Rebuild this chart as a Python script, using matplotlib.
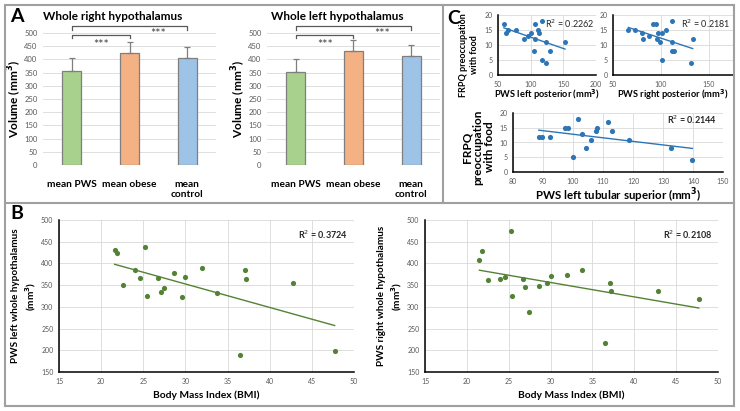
import numpy as np
import matplotlib
matplotlib.use("Agg")
import matplotlib.pyplot as plt
from matplotlib.patches import Rectangle
from matplotlib.lines import Line2D

plt.rcParams["font.family"] = ["Lato", "DejaVu Sans"]

W, H = 740, 411

# ── Data ──────────────────────────────────────────────────────────────────────
groups = ["mean PWS", "mean obese", "mean\ncontrol"]
right_means = [356, 423, 407]
right_err = [51, 44, 40]
left_means = [352, 430, 413]
left_err = [51, 45, 40]

# C: FRPQ preoccupation with food vs. regional volumes
lpost_x = [59, 62, 65, 78, 90, 95.5, 101, 107, 106, 104.5, 111, 113, 118, 118, 123, 123, 129, 152.5]
lpost_y = [17, 14, 15, 15, 12, 13, 14, 17, 12, 8, 15, 14, 18, 5, 4, 11, 8, 11]
rpost_x = [66, 73, 80, 81, 87, 92, 95, 96, 97, 99, 101, 101, 105, 111, 111, 111, 113.5, 131, 133]
rpost_y = [15, 15, 14, 12, 13, 17, 17, 12, 14, 11, 14, 5, 15, 18, 11, 8, 8, 4, 12]
tub_x = [88.6, 89.5, 92.3, 97.3, 98.4, 101.7, 103, 100, 104.4, 106, 107.7, 108, 111.5, 113, 118.5, 132.5, 139.8]
tub_y = [12, 12, 12, 15, 15, 18, 13, 5, 8, 11, 14, 15, 17, 14, 11, 8, 4]

# B: whole hypothalamus volume vs. BMI
bmi_left = [21.6, 21.9, 22.6, 24.0, 24.6, 25.2, 25.4, 26.7, 27.1, 27.4, 28.6, 29.6, 30.0, 32.0, 33.7, 36.5, 37.1, 37.2, 42.8, 47.7]
vol_left = [431, 423, 351, 385, 367, 437, 325, 367, 335, 344, 377, 323, 368, 389, 331, 190, 384, 364, 355, 198]
bmi_right = [21.5, 21.8, 22.5, 23.9, 24.5, 25.3, 25.4, 26.7, 27.0, 27.4, 28.6, 29.6, 30.0, 32.0, 33.7, 36.5, 37.1, 37.2, 42.8, 47.7]
vol_right = [408, 428, 361, 365, 368, 475, 325, 363, 345, 288, 347, 354, 371, 373, 385, 216, 355, 337, 337, 318]

BAR_COLORS = ["#A9D18E", "#F4B183", "#9DC3E6"]
GREEN = "#548235"
BLUE = "#2E75B6"
GRID = "#D9D9D9"
TICK = "#595959"
BORDER = "#A0A0A0"


def fx(x):
    return x / W


def fy(y):
    return 1 - y / H


def px_axes(fig, left, top, right, bottom):
    return fig.add_axes([fx(left), fy(bottom), (right - left) / W, (bottom - top) / H])


def ftext(fig, x, y, s, **kw):
    kw.setdefault("ha", "center")
    kw.setdefault("va", "center")
    fig.text(fx(x), fy(y), s, **kw)


# ── Panel A: bar charts ───────────────────────────────────────────────────────
def bar_panel(ax, means, err):
    xs = np.arange(len(means))
    ax.bar(xs, means, width=0.33, color=BAR_COLORS, edgecolor="#7F7F7F", linewidth=0.9, zorder=3)
    ax.errorbar(xs, means, yerr=[[0] * len(err), err], fmt="none", ecolor="#7F7F7F",
                elinewidth=0.9, capsize=2.5, capthick=0.9, zorder=4)
    ax.set_xlim(-0.5, 2.5)
    ax.set_ylim(0, 500)
    ax.set_yticks(range(0, 501, 50))
    ax.yaxis.grid(True, color=GRID, linewidth=0.6, zorder=0)
    for s in ax.spines.values():
        s.set_visible(False)
    ax.tick_params(length=0)
    ax.tick_params(axis="y", labelsize=5.5, labelcolor=TICK, pad=4)
    ax.set_xticks(xs)
    ax.set_xticklabels(groups, fontsize=7.3, fontweight="bold", linespacing=1.15)
    ax.tick_params(axis="x", pad=11)
    ax.set_ylabel("Volume (mm$^\\mathbf{3}$)", fontsize=8.6, fontweight="bold", labelpad=0)

    # significance brackets
    br = dict(color="#595959", linewidth=0.9, clip_on=False)
    ax.plot([0, 0, 2, 2], [510, 525, 525, 510], **br)
    ax.plot([0, 0, 1, 1], [480, 492, 492, 480], **br)
    ax.text(0.5, 455, "***", ha="center", va="center", fontsize=9, color="#404040")
    ax.text(1.5, 495, "***", ha="center", va="center", fontsize=9, color="#404040")


# ── Scatter helper ────────────────────────────────────────────────────────────
def scatter_panel(ax, x, y, color, size, xlim, ylim, xticks, yticks, r2, r2_pos, r2_bold, tick_fs):
    ax.scatter(x, y, s=size, color=color, zorder=3, linewidths=0)
    slope, icpt = np.polyfit(x, y, 1)
    xl = np.array([min(x), max(x)])
    ax.plot(xl, slope * xl + icpt, color=color, linewidth=1.0, zorder=2)
    ax.set_xlim(*xlim)
    ax.set_ylim(*ylim)
    ax.set_xticks(xticks)
    ax.set_yticks(yticks)
    ax.grid(True, color=GRID, linewidth=0.6, zorder=0)
    for side in ("top", "right"):
        ax.spines[side].set_visible(False)
    for side in ("left", "bottom"):
        ax.spines[side].set_color("black")
        ax.spines[side].set_linewidth(1.1)
    ax.tick_params(length=0, labelsize=tick_fs, labelcolor=TICK, pad=4)
    ax.text(r2_pos[0], r2_pos[1], r2, transform=ax.transAxes, ha="right", va="center",
            fontsize=6.5, fontweight="bold" if r2_bold else "normal", color="#262626")


fig = plt.figure(figsize=(W / 100, H / 100), dpi=100)

ax_ar = px_axes(fig, 43, 33, 216, 165)
bar_panel(ax_ar, right_means, right_err)
ax_al = px_axes(fig, 267, 33, 440, 165)
bar_panel(ax_al, left_means, left_err)

ftext(fig, 17, 17, "A", fontsize=14, fontweight="bold")
ftext(fig, 113, 16, "Whole right hypothalamus", fontsize=8.5, fontweight="bold")
ftext(fig, 337, 16, "Whole left hypothalamus", fontsize=8.5, fontweight="bold")

# ── Panel C ───────────────────────────────────────────────────────────────────
ax_c1 = px_axes(fig, 498, 15, 596, 75)
scatter_panel(ax_c1, lpost_x, lpost_y, BLUE, 13, (50, 200), (0, 20), [50, 100, 150, 200], [0, 5, 10, 15, 20],
              "R$^2$ = 0.2262", (0.98, 0.86), False, 5)
ax_c1.set_xlabel("PWS left posterior (mm$^\\mathbf{3}$)", fontsize=6.7, fontweight="bold", labelpad=0)

ax_c2 = px_axes(fig, 613, 15, 733, 75)
scatter_panel(ax_c2, rpost_x, rpost_y, BLUE, 13, (50, 175), (0, 20), [50, 100, 150], [0, 5, 10, 15, 20],
              "R$^2$ = 0.2181", (0.98, 0.86), False, 5)
ax_c2.set_xlabel("PWS right posterior (mm$^\\mathbf{3}$)", fontsize=6.7, fontweight="bold", labelpad=0)

ax_c3 = px_axes(fig, 513, 113, 723, 172)
scatter_panel(ax_c3, tub_x, tub_y, BLUE, 14, (80, 150), (0, 20), range(80, 151, 10), [0, 5, 10, 15, 20],
              "R$^2$ = 0.2144", (0.97, 0.88), True, 5)
ax_c3.set_xlabel("PWS left tubular superior (mm$^\\mathbf{3}$)", fontsize=8.3, fontweight="bold", labelpad=1)

ftext(fig, 454, 18, "C", fontsize=14, fontweight="bold")
ftext(fig, 469, 55, "FRPQ preoccupation\nwith food", fontsize=6.5, fontweight="bold", rotation=90, linespacing=1.2)
ftext(fig, 478, 147, "FRPQ\npreoccupation\nwith food", fontsize=8.5, fontweight="bold", rotation=90, linespacing=1.05)

# ── Panel B ───────────────────────────────────────────────────────────────────
ax_bl = px_axes(fig, 59, 220, 354, 372)
scatter_panel(ax_bl, bmi_left, vol_left, GREEN, 14, (15, 50), (150, 500), range(15, 51, 5), range(150, 501, 50),
              "R$^2$ = 0.3724", (0.98, 0.90), True, 5)
ax_bl.set_xlabel("Body Mass Index (BMI)", fontsize=7.4, fontweight="bold", labelpad=4)
ax_bl.set_ylabel("PWS left whole hypothalamus\n(mm$^\\mathbf{3}$)", fontsize=7.2, fontweight="bold",
                 labelpad=2, linespacing=1.3)

ax_br = px_axes(fig, 425, 220, 718, 372)
scatter_panel(ax_br, bmi_right, vol_right, GREEN, 14, (15, 50), (150, 500), range(15, 51, 5), range(150, 501, 50),
              "R$^2$ = 0.2108", (0.98, 0.90), True, 5)
ax_br.set_xlabel("Body Mass Index (BMI)", fontsize=7.4, fontweight="bold", labelpad=4)
ax_br.set_ylabel("PWS right whole hypothalamus\n(mm$^\\mathbf{3}$)", fontsize=7.2, fontweight="bold",
                 labelpad=2, linespacing=1.3)

ftext(fig, 17, 213, "B", fontsize=14, fontweight="bold")

# ── Panel borders ─────────────────────────────────────────────────────────────
fig.add_artist(Rectangle((fx(5), fy(406)), (734 - 5) / W, (406 - 5) / H, transform=fig.transFigure,
                         fill=False, edgecolor=BORDER, linewidth=1.5))
fig.add_artist(Line2D([fx(5), fx(734)], [fy(203), fy(203)], transform=fig.transFigure,
                      color=BORDER, linewidth=1.5))
fig.add_artist(Line2D([fx(443), fx(443)], [fy(5), fy(203)], transform=fig.transFigure,
                      color=BORDER, linewidth=1.5))

fig.savefig("out.png", dpi=100, facecolor="white")
